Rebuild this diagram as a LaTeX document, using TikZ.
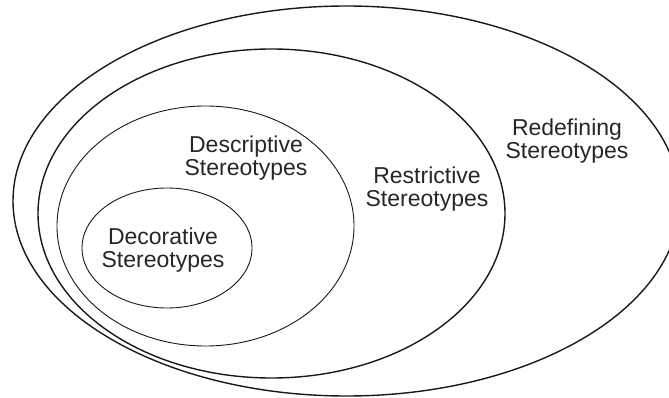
\documentclass[tikz,border=0pt]{standalone}
\usepackage{fontspec}
\setmainfont{Liberation Sans}
\begin{document}
\begin{tikzpicture}[x=1pt,y=-1pt,
  thickring/.style={draw=black!90,line width=1.4pt},
  thinring/.style={draw=black!90,line width=0.9pt},
  lbl/.style={align=center,inner sep=0pt,font=\fontsize{23}{22.8}\selectfont,text=black!85}]
\useasboundingbox (0,0) rectangle (669,398);
\clip (0,0) rectangle (669,398);
\path[thickring] (346.5,201) ellipse [x radius=333.5, y radius=195];
\path[thickring] (271.5,213.5) ellipse [x radius=233.5, y radius=164.5];
\path[thinring] (205.5,226) ellipse [x radius=148.5, y radius=120];
\path[thinring] (167,248) ellipse [x radius=85, y radius=60];
\node[lbl] (redef) at (567,141) {Redefining\\Stereotypes};
\node[lbl] (restr) at (427,189) {Restrictive\\Stereotypes};
\node[lbl] (descr) at (246,158) {Descriptive\\Stereotypes};
\node[lbl] (decor) at (163,250) {Decorative\\Stereotypes};
\end{tikzpicture}
\end{document}
